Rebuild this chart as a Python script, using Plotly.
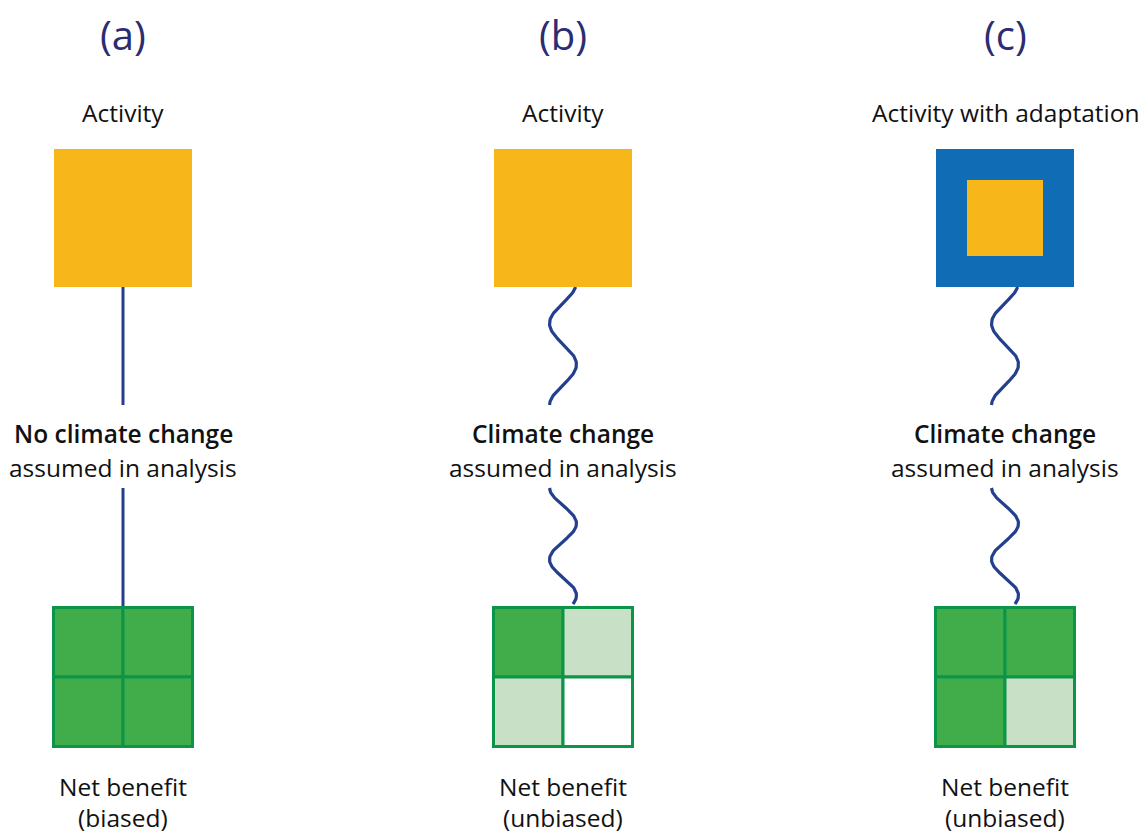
import numpy as np
import plotly.graph_objects as go

# ---- content ----
panel_labels = ["(a)", "(b)", "(c)"]
top_labels = ["Activity", "Activity", "Activity with adaptation"]
mid_bold = ["No climate change", "Climate change", "Climate change"]
mid_plain = ["assumed in analysis", "assumed in analysis", "assumed in analysis"]
bottom_line1 = ["Net benefit", "Net benefit", "Net benefit"]
bottom_line2 = ["(biased)", "(unbiased)", "(unbiased)"]
# quadrant fill states of the net benefit grid: TL, TR, BL, BR (2=full, 1=light, 0=empty)
quadrants = [[2, 2, 2, 2], [2, 1, 1, 0], [2, 2, 2, 1]]
adaptation = [False, False, True]
climate_change = [False, True, True]

# ---- style ----
W, H = 1148, 834
centers = [123, 563, 1005]
ORANGE = "#F7B619"
BLUE = "#106CB5"
GREEN = "#41AD4A"
LIGHT = "#C8E0C5"
EDGE = "#0C9448"
NAVY_LINE = "#233F8E"
NAVY_TXT = "#2B2C72"
FONT = "Open Sans"
TS = 24.5

fig = go.Figure()
shapes = []
annotations = []
half = 69

for i, cx in enumerate(centers):
    # activity square
    if adaptation[i]:
        shapes.append(dict(type="rect", x0=cx - half, x1=cx + half, y0=149, y1=287,
                           fillcolor=BLUE, line=dict(width=0), layer="above"))
        shapes.append(dict(type="rect", x0=cx - 38, x1=cx + 38, y0=180, y1=256,
                           fillcolor=ORANGE, line=dict(width=0), layer="above"))
    else:
        shapes.append(dict(type="rect", x0=cx - half, x1=cx + half, y0=149, y1=287,
                           fillcolor=ORANGE, line=dict(width=0), layer="above"))

    # connector lines
    if climate_change[i]:
        y1 = np.linspace(287, 405, 120)
        x1 = cx + 13.5 * np.sin(np.pi * (y1 - 344) / 41)
        y2 = np.linspace(488, 604, 120)
        x2 = cx + 13.5 * np.sin(np.pi * (y2 - 505.5) / 36)
        for xs, ys in [(x1, y1), (x2, y2)]:
            fig.add_trace(go.Scatter(x=xs, y=ys, mode="lines",
                                     line=dict(color=NAVY_LINE, width=3.2),
                                     hoverinfo="skip", showlegend=False))
    else:
        for ya, yb in [(287, 405), (488, 607)]:
            fig.add_trace(go.Scatter(x=[cx, cx], y=[ya, yb], mode="lines",
                                     line=dict(color=NAVY_LINE, width=3),
                                     hoverinfo="skip", showlegend=False))

    # net benefit grid
    gx0, gx1, gy0, gy1 = cx - 69.5, cx + 69.5, 607.5, 746.5
    mx, my = cx, 677
    cells = [(gx0, mx, gy0, my), (mx, gx1, gy0, my), (gx0, mx, my, gy1), (mx, gx1, my, gy1)]
    for (a, b, c, d), q in zip(cells, quadrants[i]):
        fill = {2: GREEN, 1: LIGHT, 0: "white"}[q]
        shapes.append(dict(type="rect", x0=a, x1=b, y0=c, y1=d, fillcolor=fill,
                           line=dict(color=EDGE, width=3), layer="above"))

    # texts
    annotations.append(dict(x=cx, y=34, text=panel_labels[i], showarrow=False,
                            font=dict(family=FONT, size=40, color=NAVY_TXT)))
    annotations.append(dict(x=cx, y=112, text=top_labels[i], showarrow=False,
                            font=dict(family=FONT, size=TS, color="#111111")))
    annotations.append(dict(x=cx, y=433, text=mid_bold[i], showarrow=False,
                            font=dict(family=FONT, size=TS, color="#111111", weight=600)))
    annotations.append(dict(x=cx, y=467, text=mid_plain[i], showarrow=False,
                            font=dict(family=FONT, size=TS, color="#111111")))
    annotations.append(dict(x=cx, y=786, text=bottom_line1[i], showarrow=False,
                            font=dict(family=FONT, size=TS, color="#111111")))
    annotations.append(dict(x=cx, y=817, text=bottom_line2[i], showarrow=False,
                            font=dict(family=FONT, size=TS, color="#111111")))

fig.update_layout(
    width=W, height=H, margin=dict(l=0, r=0, t=0, b=0),
    paper_bgcolor="white", plot_bgcolor="white",
    xaxis=dict(range=[0, W], visible=False, fixedrange=True),
    yaxis=dict(range=[H, 0], visible=False, fixedrange=True),
    shapes=shapes, annotations=annotations, showlegend=False,
)
fig.write_html("out.html", config={"displayModeBar": False},
               post_script="document.body.style.margin='0px';document.body.style.overflow='hidden';")
